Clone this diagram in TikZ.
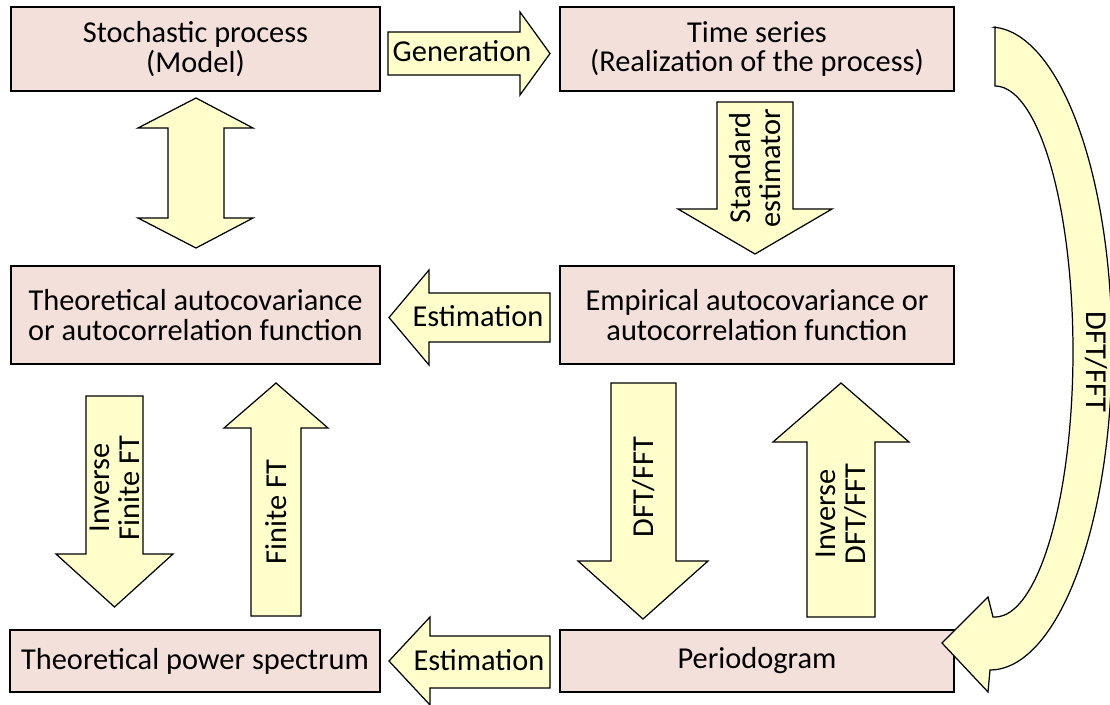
\documentclass[tikz,border=0pt]{standalone}
\usepackage{fontspec}
\setmainfont{Carlito}
\usepackage{tikz}
\usetikzlibrary{positioning, calc}
\definecolor{boxfill}{HTML}{F3E0DA}
\definecolor{arrowfill}{HTML}{FFFFCC}

\tikzset{
  box/.style={draw=black, line width=0.8pt, fill=boxfill, align=center,
              inner sep=0pt, font=\fontsize{17.3}{17}\selectfont},
  blk/.style={draw=black, line width=0.7pt, fill=arrowfill, line join=miter},
  lbl/.style={align=center, inner sep=0pt, font=\fontsize{17.3}{17}\selectfont}
}

\begin{document}
\begin{tikzpicture}[x=0.02cm, y=-0.02cm]
    \useasboundingbox (0,0) rectangle (1110,704);

    % boxes
    \node[box, minimum width=7.38cm, minimum height=1.68cm] (model) at (195.5,49)
      {Stochastic process\\(Model)};
    \node[box, minimum width=7.88cm, minimum height=1.68cm] (series) at (757,49)
      {Time series\\(Realization of the process)};
    \node[box, minimum width=7.38cm, minimum height=1.96cm] (theoacf) at (195.5,315)
      {Theoretical autocovariance\\or autocorrelation function};
    \node[box, minimum width=7.88cm, minimum height=1.96cm] (empacf) at (757,315)
      {Empirical autocovariance or\\autocorrelation function};
    \node[box, minimum width=7.40cm, minimum height=1.24cm] (theopsd) at (195,661)
      {Theoretical power spectrum};
    \node[box, minimum width=7.88cm, minimum height=1.24cm] (pgram) at (757,661)
      {Periodogram};

    % block arrows
    \draw[blk] (388,32) -- (520,32) -- (520,12) -- (550,53.5) -- (520,95)
      -- (520,75) -- (388,75) -- cycle;
    \node[lbl] (gen) at (462,51) {Generation};

    \draw[blk] (196,98) -- (253,128) -- (224,128) -- (224,218) -- (253,218)
      -- (196,248) -- (138,218) -- (168,218) -- (168,128) -- (138,128) -- cycle;

    \draw[blk] (717,102) -- (793,102) -- (793,209) -- (832,209) -- (755,254)
      -- (678,209) -- (717,209) -- cycle;
    \node[lbl, rotate=90] (stdest) at (755,168) {Standard\\estimator};

    \draw[blk] (550,293) -- (429,293) -- (429,270) -- (389,317.5) -- (429,365)
      -- (429,342) -- (550,342) -- cycle;
    \node[lbl] (est1) at (478,316) {Estimation};

    \draw[blk] (86,396) -- (143,396) -- (143,554) -- (173,554) -- (114.5,607)
      -- (56,554) -- (86,554) -- cycle;
    \node[lbl, rotate=90] (invfft) at (114.5,488) {Inverse\\Finite FT};

    \draw[blk] (251,616) -- (301,616) -- (301,428) -- (328,428) -- (276,383)
      -- (224,428) -- (251,428) -- cycle;
    \node[lbl, rotate=90] (fft) at (276,512) {Finite FT};

    \draw[blk] (611,383) -- (676,383) -- (676,561) -- (708,561) -- (643,619)
      -- (578,561) -- (611,561) -- cycle;
    \node[lbl, rotate=90] (dft) at (644,487) {DFT/FFT};

    \draw[blk] (807,617) -- (875,617) -- (875,442) -- (909,442) -- (841,383)
      -- (773,442) -- (807,442) -- cycle;
    \node[lbl, rotate=90] (invdft) at (841,514) {Inverse\\DFT/FFT};

    \draw[blk] (550,636) -- (430,636) -- (430,617) -- (389,661) -- (430,705)
      -- (430,688) -- (550,688) -- cycle;
    \node[lbl] (est2) at (479,660) {Estimation};

    % curved arrow, series -> periodogram
    \draw[blk] (995,27)
      -- plot[smooth, domain=88:-90, samples=60] ({990+122*cos(\x)},{348.5-321.5*sin(\x)})
      -- (988,692) -- (942,643) -- (988,597) -- (993,617)
      -- plot[smooth, domain=-90:90, samples=60] ({995+78*cos(\x)},{351.5-265.5*sin(\x)})
      -- cycle;
    \node[lbl, rotate=-90] (dftc) at (1096,362) {DFT/FFT};
\end{tikzpicture}
\end{document}
